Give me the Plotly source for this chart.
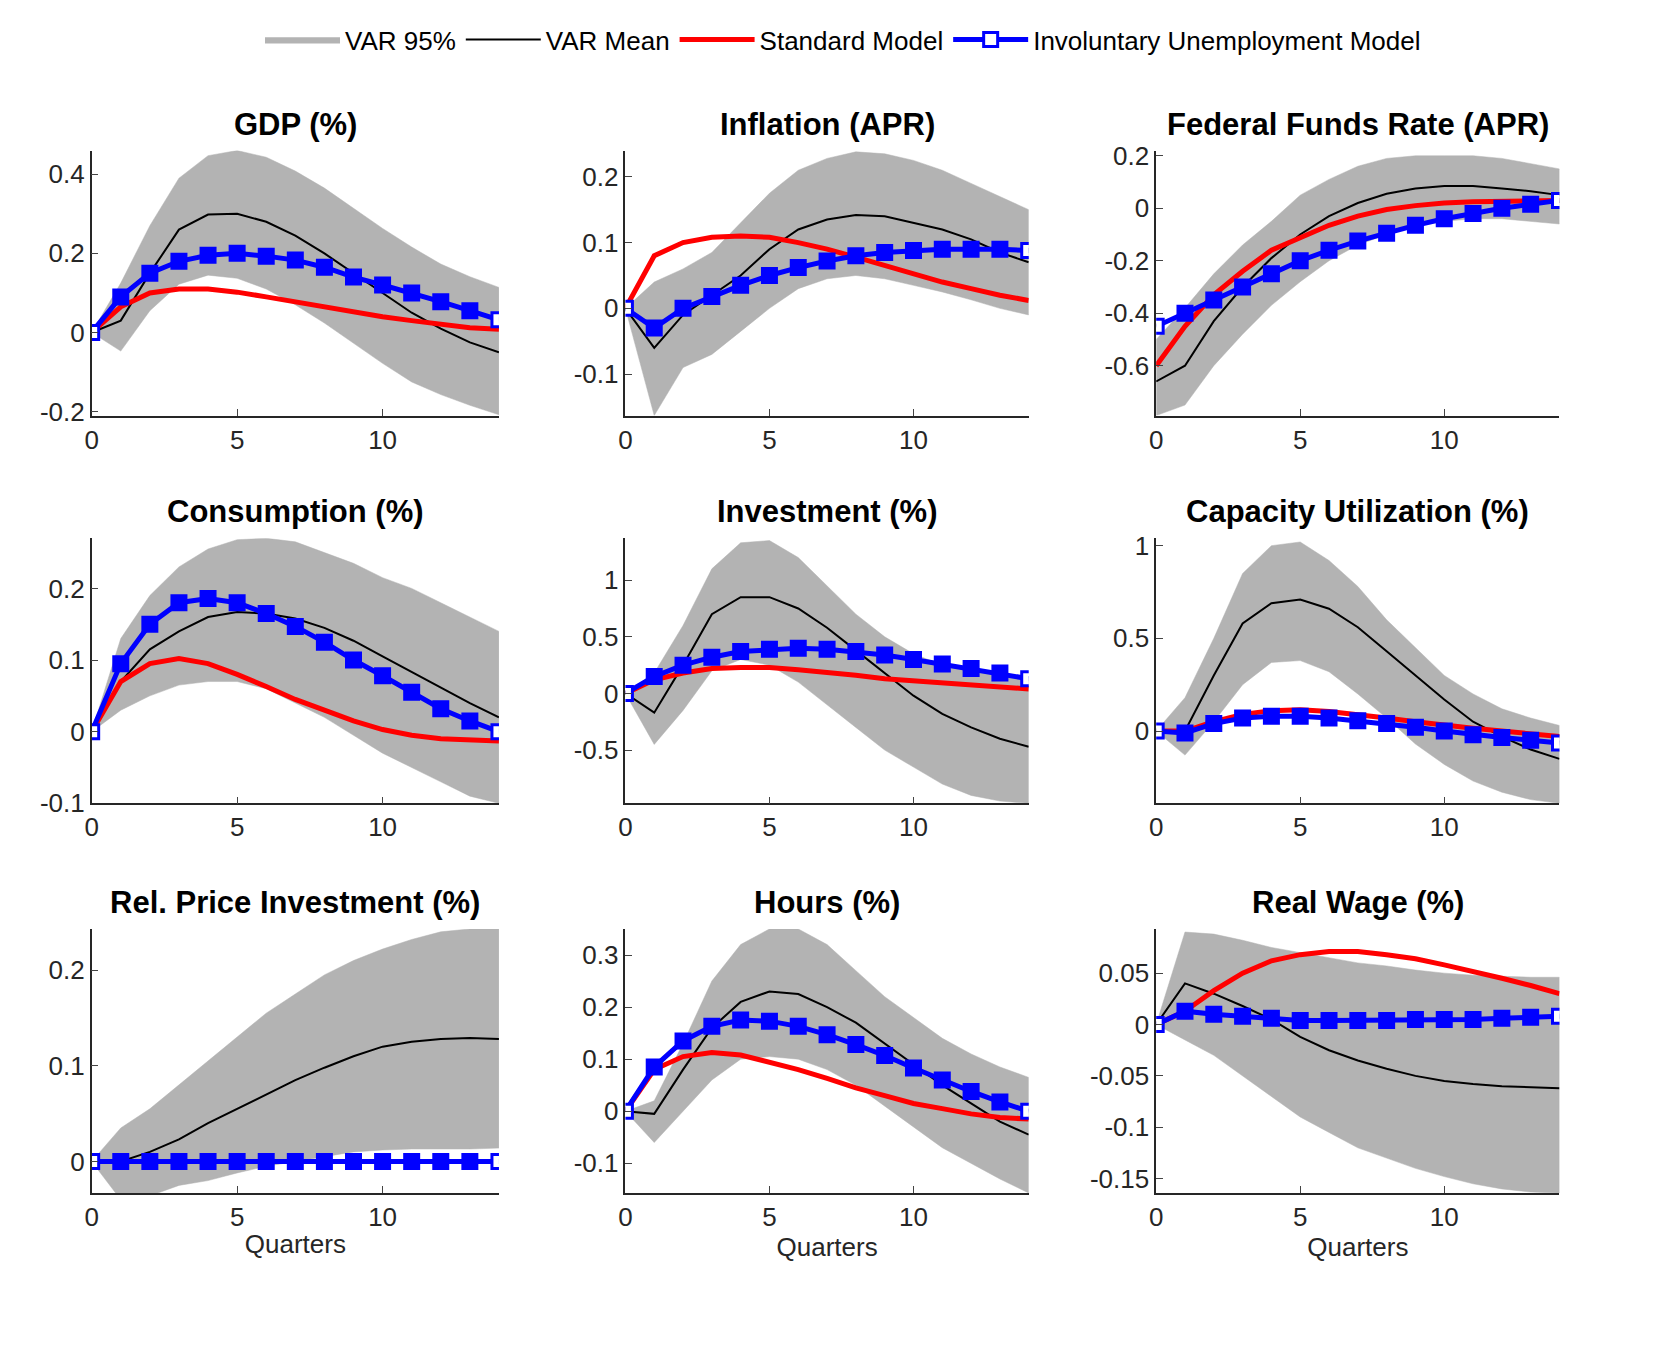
import plotly.graph_objects as go

quarters = list(range(15))

titles = [
    "GDP (%)", "Inflation (APR)", "Federal Funds Rate (APR)",
    "Consumption (%)", "Investment (%)", "Capacity Utilization (%)",
    "Rel. Price Investment (%)", "Hours (%)", "Real Wage (%)",
]

gdp_upper = [0, 0.125, 0.27, 0.39, 0.447, 0.46, 0.443, 0.408, 0.365, 0.314, 0.263, 0.216, 0.173, 0.141, 0.114]
gdp_lower = [0, -0.047, 0.055, 0.122, 0.145, 0.137, 0.11, 0.07, 0.024, -0.027, -0.078, -0.125, -0.157, -0.184, -0.208]
gdp_mean = [0, 0.03, 0.15, 0.26, 0.298, 0.3, 0.28, 0.245, 0.2, 0.15, 0.1, 0.05, 0.01, -0.025, -0.05]
gdp_std = [0, 0.065, 0.1, 0.11, 0.11, 0.102, 0.09, 0.077, 0.064, 0.052, 0.04, 0.03, 0.02, 0.012, 0.008]
gdp_inv = [0, 0.09, 0.15, 0.18, 0.195, 0.2, 0.193, 0.183, 0.165, 0.14, 0.12, 0.1, 0.078, 0.055, 0.032]

inf_upper = [0, 0.04, 0.06, 0.085, 0.13, 0.175, 0.21, 0.228, 0.238, 0.235, 0.225, 0.21, 0.19, 0.17, 0.15]
inf_lower = [0, -0.163, -0.09, -0.07, -0.035, 0.0, 0.03, 0.045, 0.05, 0.045, 0.035, 0.025, 0.013, 0.0, -0.01]
inf_mean = [0, -0.06, -0.01, 0.02, 0.05, 0.09, 0.12, 0.135, 0.142, 0.14, 0.13, 0.12, 0.105, 0.085, 0.07]
inf_std = [0, 0.08, 0.1, 0.108, 0.11, 0.108, 0.1, 0.09, 0.078, 0.065, 0.052, 0.04, 0.03, 0.02, 0.012]
inf_inv = [0, -0.03, 0.0, 0.018, 0.035, 0.05, 0.062, 0.072, 0.08, 0.085, 0.088, 0.09, 0.09, 0.09, 0.088]

ffr_upper = [-0.5, -0.38, -0.25, -0.14, -0.05, 0.05, 0.11, 0.16, 0.19, 0.2, 0.2, 0.2, 0.19, 0.17, 0.15]
ffr_lower = [-0.79, -0.75, -0.6, -0.48, -0.37, -0.28, -0.2, -0.14, -0.1, -0.07, -0.05, -0.04, -0.04, -0.05, -0.06]
ffr_mean = [-0.66, -0.6, -0.43, -0.3, -0.19, -0.1, -0.03, 0.02, 0.055, 0.075, 0.085, 0.085, 0.075, 0.065, 0.05]
ffr_std = [-0.6, -0.45, -0.33, -0.24, -0.16, -0.11, -0.065, -0.03, -0.005, 0.01, 0.02, 0.025, 0.028, 0.03, 0.03]
ffr_inv = [-0.45, -0.4, -0.35, -0.3, -0.25, -0.2, -0.16, -0.125, -0.095, -0.065, -0.04, -0.02, 0.0, 0.015, 0.03]

con_upper = [0, 0.13, 0.19, 0.23, 0.255, 0.268, 0.27, 0.265, 0.25, 0.235, 0.215, 0.2, 0.18, 0.16, 0.14]
con_lower = [0, 0.03, 0.05, 0.065, 0.07, 0.07, 0.06, 0.04, 0.02, -0.005, -0.03, -0.05, -0.07, -0.09, -0.1]
con_mean = [0, 0.07, 0.115, 0.14, 0.16, 0.167, 0.165, 0.158, 0.145, 0.127, 0.105, 0.083, 0.062, 0.04, 0.02]
con_std = [0, 0.07, 0.095, 0.102, 0.095, 0.08, 0.063, 0.045, 0.03, 0.015, 0.003, -0.005, -0.01, -0.012, -0.013]
con_inv = [0, 0.095, 0.15, 0.18, 0.186, 0.18, 0.165, 0.147, 0.125, 0.1, 0.078, 0.055, 0.032, 0.015, 0.0]

inv_upper = [0, 0.18, 0.6, 1.1, 1.33, 1.35, 1.2, 0.95, 0.7, 0.5, 0.35, 0.25, 0.2, 0.16, 0.12]
inv_lower = [0, -0.45, -0.15, 0.2, 0.3, 0.25, 0.1, -0.1, -0.3, -0.5, -0.65, -0.8, -0.9, -0.95, -0.97]
inv_mean = [0, -0.17, 0.25, 0.7, 0.85, 0.85, 0.75, 0.58, 0.38, 0.18, -0.02, -0.18, -0.3, -0.4, -0.47]
inv_std = [0, 0.12, 0.18, 0.22, 0.23, 0.23, 0.21, 0.19, 0.16, 0.13, 0.11, 0.09, 0.07, 0.05, 0.04]
inv_inv = [0, 0.15, 0.25, 0.32, 0.37, 0.39, 0.4, 0.39, 0.37, 0.34, 0.3, 0.26, 0.22, 0.18, 0.13]

cap_upper = [0, 0.18, 0.5, 0.85, 1.0, 1.02, 0.92, 0.78, 0.6, 0.45, 0.3, 0.2, 0.12, 0.07, 0.03]
cap_lower = [0, -0.13, 0.05, 0.25, 0.37, 0.38, 0.32, 0.2, 0.07, -0.07, -0.18, -0.27, -0.33, -0.37, -0.39]
cap_mean = [0, 0.0, 0.3, 0.58, 0.69, 0.71, 0.66, 0.56, 0.43, 0.3, 0.17, 0.05, -0.03, -0.1, -0.15]
cap_std = [0, 0.0, 0.05, 0.09, 0.11, 0.115, 0.105, 0.09, 0.07, 0.05, 0.03, 0.015, 0.0, -0.015, -0.03]
cap_inv = [0, -0.01, 0.04, 0.07, 0.08, 0.08, 0.07, 0.055, 0.04, 0.02, 0.0, -0.02, -0.035, -0.05, -0.065]

rpi_upper = [0, 0.035, 0.055, 0.08, 0.105, 0.13, 0.155, 0.175, 0.195, 0.21, 0.222, 0.232, 0.24, 0.243, 0.243]
rpi_lower = [0, -0.04, -0.036, -0.025, -0.02, -0.012, -0.005, 0.0, 0.005, 0.01, 0.012, 0.013, 0.013, 0.013, 0.014]
rpi_mean = [0, 0.0, 0.01, 0.023, 0.04, 0.055, 0.07, 0.085, 0.098, 0.11, 0.12, 0.125, 0.128, 0.129, 0.128]
rpi_std = [0] * 15
rpi_inv = [0] * 15

hrs_upper = [0, 0.02, 0.13, 0.25, 0.32, 0.35, 0.35, 0.32, 0.27, 0.22, 0.18, 0.14, 0.11, 0.085, 0.065]
hrs_lower = [0, -0.06, 0.0, 0.06, 0.1, 0.105, 0.1, 0.08, 0.05, 0.01, -0.03, -0.07, -0.1, -0.13, -0.157]
hrs_mean = [0, -0.005, 0.08, 0.16, 0.21, 0.23, 0.225, 0.2, 0.17, 0.13, 0.09, 0.05, 0.015, -0.02, -0.045]
hrs_std = [0, 0.08, 0.105, 0.113, 0.108, 0.095, 0.08, 0.063, 0.045, 0.03, 0.015, 0.005, -0.005, -0.012, -0.015]
hrs_inv = [0, 0.085, 0.135, 0.163, 0.175, 0.173, 0.163, 0.147, 0.128, 0.107, 0.083, 0.06, 0.038, 0.018, 0.0]

rw_upper = [0, 0.09, 0.088, 0.082, 0.075, 0.07, 0.065, 0.06, 0.057, 0.053, 0.05, 0.048, 0.047, 0.046, 0.046]
rw_lower = [0, -0.015, -0.03, -0.05, -0.07, -0.09, -0.105, -0.12, -0.13, -0.14, -0.148, -0.155, -0.16, -0.163, -0.164]
rw_mean = [0, 0.04, 0.03, 0.018, 0.005, -0.012, -0.025, -0.035, -0.043, -0.05, -0.055, -0.058, -0.06, -0.061, -0.062]
rw_std = [0, 0.013, 0.033, 0.05, 0.062, 0.068, 0.071, 0.071, 0.068, 0.064, 0.058, 0.052, 0.045, 0.038, 0.03]
rw_inv = [0, 0.013, 0.01, 0.008, 0.006, 0.004, 0.004, 0.004, 0.004, 0.005, 0.005, 0.005, 0.006, 0.007, 0.008]

panels = [
    (gdp_upper, gdp_lower, gdp_mean, gdp_std, gdp_inv, [-0.21, 0.46], [-0.2, 0, 0.2, 0.4], ["-0.2", "0", "0.2", "0.4"]),
    (inf_upper, inf_lower, inf_mean, inf_std, inf_inv, [-0.163, 0.24], [-0.1, 0, 0.1, 0.2], ["-0.1", "0", "0.1", "0.2"]),
    (ffr_upper, ffr_lower, ffr_mean, ffr_std, ffr_inv, [-0.79, 0.22], [-0.6, -0.4, -0.2, 0, 0.2], ["-0.6", "-0.4", "-0.2", "0", "0.2"]),
    (con_upper, con_lower, con_mean, con_std, con_inv, [-0.1, 0.27], [-0.1, 0, 0.1, 0.2], ["-0.1", "0", "0.1", "0.2"]),
    (inv_upper, inv_lower, inv_mean, inv_std, inv_inv, [-0.97, 1.37], [-0.5, 0, 0.5, 1], ["-0.5", "0", "0.5", "1"]),
    (cap_upper, cap_lower, cap_mean, cap_std, cap_inv, [-0.39, 1.04], [0, 0.5, 1], ["0", "0.5", "1"]),
    (rpi_upper, rpi_lower, rpi_mean, rpi_std, rpi_inv, [-0.033, 0.243], [0, 0.1, 0.2], ["0", "0.1", "0.2"]),
    (hrs_upper, hrs_lower, hrs_mean, hrs_std, hrs_inv, [-0.157, 0.35], [-0.1, 0, 0.1, 0.2, 0.3], ["-0.1", "0", "0.1", "0.2", "0.3"]),
    (rw_upper, rw_lower, rw_mean, rw_std, rw_inv, [-0.164, 0.093], [-0.15, -0.1, -0.05, 0, 0.05], ["-0.15", "-0.1", "-0.05", "0", "0.05"]),
]

W, H = 1663, 1362
col_px = [(77, 486), (613, 1018), (1146, 1551)]
row_px = [(135, 405), (530, 800), (928, 1197)]

fig = go.Figure()
layout = {}
annotations = []
axis_font = dict(family="Liberation Sans, Arial", size=26, color="#262626")

for i, (up, lo, mean, std, inv, yr, tv, tt) in enumerate(panels):
    r, c = divmod(i, 3)
    n = "" if i == 0 else str(i + 1)
    xa, ya = "x" + n, "y" + n
    first = i == 0
    fig.add_trace(go.Scatter(
        x=quarters + quarters[::-1], y=up + lo[::-1], fill="toself",
        fillcolor="#b3b3b3", line=dict(color="#b3b3b3", width=0.5),
        mode="lines", name="VAR 95%", showlegend=first,
        xaxis=xa, yaxis=ya))
    fig.add_trace(go.Scatter(
        x=quarters, y=mean, mode="lines", line=dict(color="black", width=2),
        name="VAR Mean", showlegend=first, xaxis=xa, yaxis=ya))
    fig.add_trace(go.Scatter(
        x=quarters, y=std, mode="lines", line=dict(color="#ff0000", width=5),
        name="Standard Model", showlegend=first, xaxis=xa, yaxis=ya))
    mcol = ["white"] + ["#0000ff"] * 13 + ["white"]
    fig.add_trace(go.Scatter(
        x=quarters, y=inv, mode="lines+markers", line=dict(color="#0000ff", width=5),
        marker=dict(symbol="square", size=14, color=mcol, line=dict(color="#0000ff", width=3)),
        name="Involuntary Unemployment Model", showlegend=first, xaxis=xa, yaxis=ya))

    x0, x1 = col_px[c]
    y0, y1 = row_px[r]
    layout["xaxis" + n] = dict(
        domain=[x0 / W, x1 / W], range=[0, 14], anchor=ya,
        tickvals=[0, 5, 10], ticks="inside", ticklen=7, showline=True,
        linecolor="#262626", linewidth=1.5, showgrid=False, zeroline=False,
        tickfont=axis_font,
        title=dict(text="Quarters", font=axis_font, standoff=4) if r == 2 else None)
    layout["yaxis" + n] = dict(
        domain=[1 - y1 / H, 1 - y0 / H], range=yr, anchor=xa,
        tickvals=tv, ticktext=tt, ticks="inside", ticklen=7, showline=True,
        linecolor="#262626", linewidth=1.5, showgrid=False, zeroline=False,
        tickfont=axis_font)
    annotations.append(dict(
        text="<b>%s</b>" % titles[i], x=(x0 + x1) / 2 / W, y=1 - (y0 - 27) / H,
        xref="paper", yref="paper", showarrow=False, xanchor="center", yanchor="middle",
        font=dict(family="Liberation Sans, Arial", size=31, color="black")))

fig.update_layout(
    width=W, height=H, margin=dict(l=0, r=0, t=0, b=0),
    paper_bgcolor="white", plot_bgcolor="white",
    annotations=annotations,
    legend=dict(orientation="h", x=0.5, xanchor="center", y=1 - 22 / H, yanchor="middle",
                font=dict(family="Liberation Sans, Arial", size=26, color="black"),
                itemwidth=75),
    **layout,
)

fig.write_html("out.html")
